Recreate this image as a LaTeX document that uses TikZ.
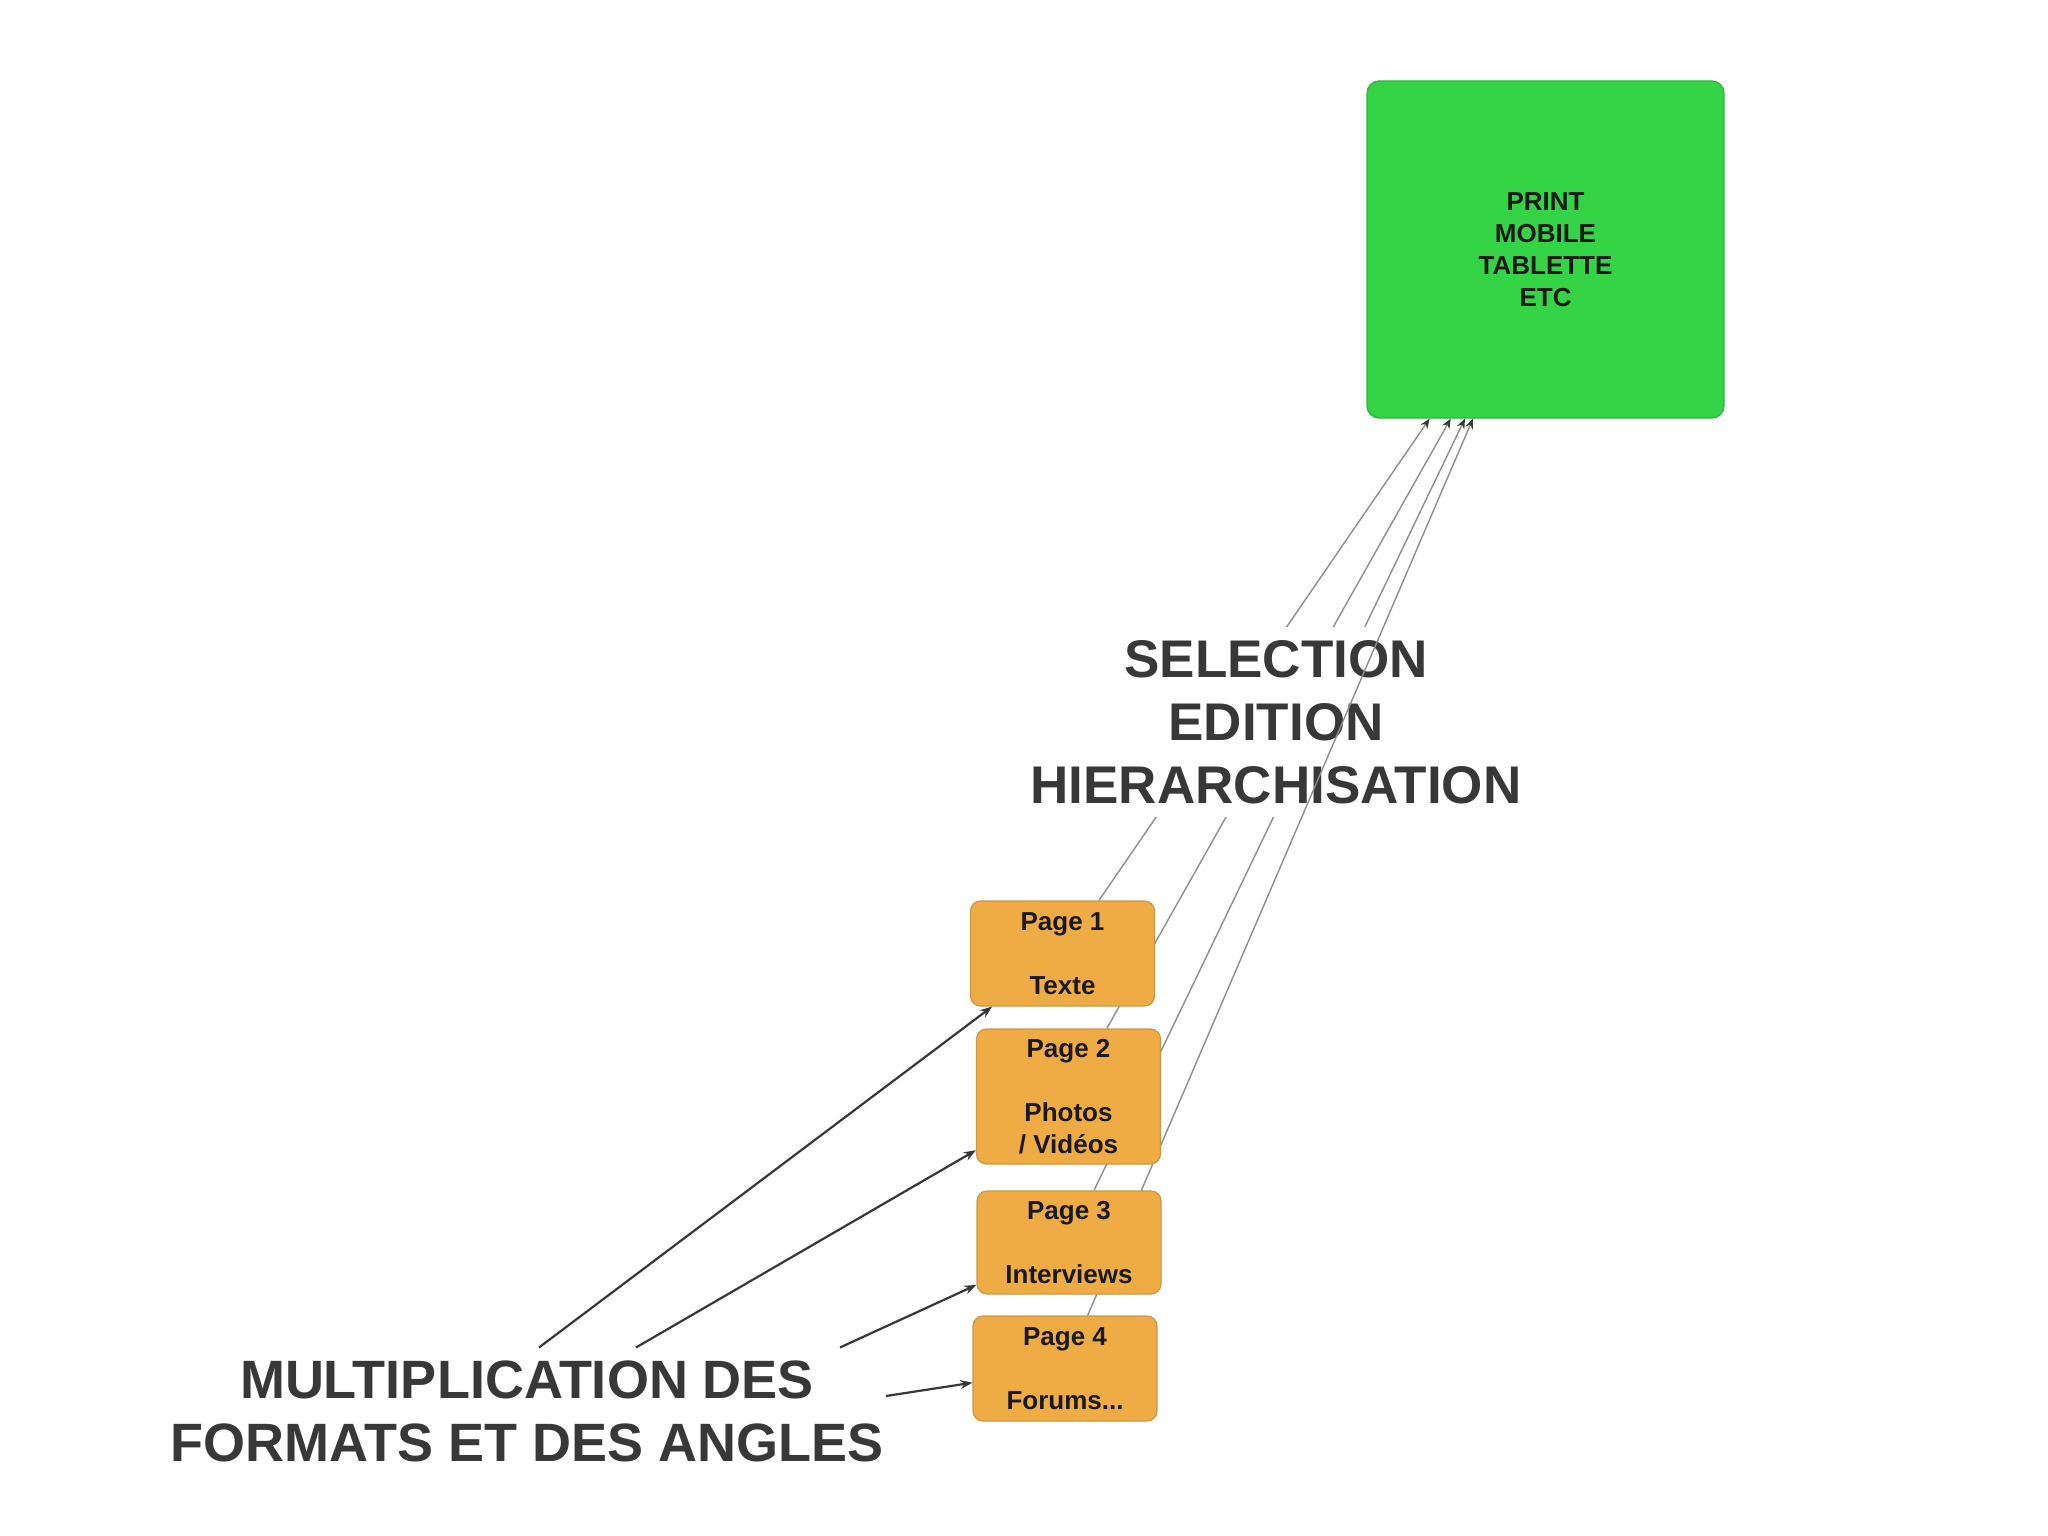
\documentclass[tikz,border=0pt]{standalone}
\usepackage{fontspec}
\setmainfont{Liberation Sans}
\usetikzlibrary{arrows.meta,backgrounds}
\definecolor{ink}{HTML}{383838}
\definecolor{wire}{HTML}{8e8e8e}
\definecolor{fillG}{HTML}{34D446}
\definecolor{lineG}{HTML}{2DB63D}
\definecolor{fillO}{HTML}{F0AC44}
\definecolor{lineO}{HTML}{C9974A}

\begin{document}
\begin{tikzpicture}[
  x=0.5pt, y=-0.5pt,
  font=\bfseries\fontsize{13pt}{16pt}\selectfont,
  page/.style={draw=lineO, fill=fillO, rounded corners=5pt, line width=0.6pt, align=center, inner sep=0pt, minimum width=92pt, minimum height=52.5pt, text=black!90},
  screen/.style={draw=lineG, fill=fillG, rounded corners=6pt, line width=0.6pt, align=center, inner sep=0pt, text=black!90},
  big/.style={font=\bfseries\fontsize{26.5pt}{31.5pt}\selectfont, text=ink, align=center},
  feed/.style={-{Stealth[length=6pt,width=4.5pt]}, line width=1.1pt, draw=ink},
  pick/.style={-{Stealth[length=5pt,width=4pt,color=ink]}, line width=0.7pt, draw=wire},
]
\useasboundingbox (0,0) rectangle (2048,1535);
% media (top right)
\node[screen, minimum width=178.5pt, minimum height=168.5pt] (media) at (1545.5,249.5) {PRINT\\MOBILE\\TABLETTE\\ETC};
% pages
\node[page] (p1) at (1062.5,953.5) {Page 1\\[16pt]Texte};
\node[page, minimum height=67.5pt] (p2) at (1068.5,1096.5) {Page 2\\[16pt]Photos\\/ Vidéos};
\node[page, minimum height=51.5pt] (p3) at (1069,1242.5) {Page 3\\[16pt]Interviews};
\node[page] (p4) at (1065,1368.5) {Page 4\\[16pt]Forums...};
% formats
\node[big, font=\bfseries\fontsize{27pt}{31.5pt}\selectfont, inner xsep=1pt, inner ysep=6.5pt] (multi) at (527,1411.5) {MULTIPLICATION DES\\FORMATS ET DES ANGLES};
\draw[feed] ([xshift=6pt]multi.north) -- (p1);
\draw[feed] ([xshift=54.5pt]multi.north) -- (p2);
\draw[feed] ([xshift=156.5pt]multi.north) -- (p3);
\draw[feed] ([yshift=7.75pt]multi.east) -- (p4);
% selection, behind the pages
\begin{scope}[on background layer]
\fill[white] (0,0) rectangle (2048,1535);
\draw[pick] (p1) -- (media);
\draw[pick] (p2) -- (media);
\draw[pick] (p3) -- (media);
\node[big, fill=white, inner xsep=4pt, inner ysep=6.5pt] (steps) at (1276,722) {SELECTION\\EDITION\\HIERARCHISATION};
\draw[pick] (p4) -- (media);
\end{scope}
\end{tikzpicture}
\end{document}
